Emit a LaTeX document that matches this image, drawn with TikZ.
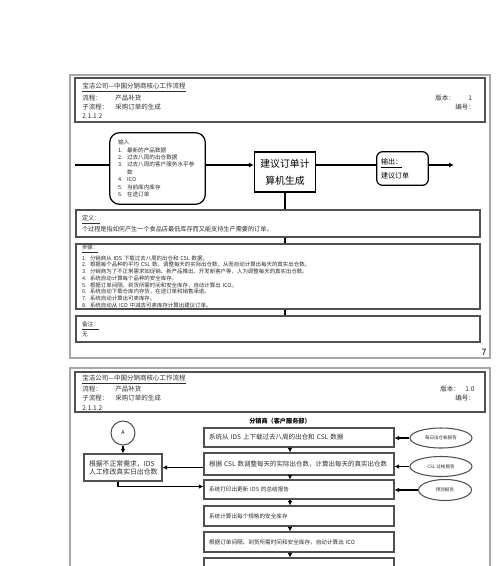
\documentclass[tikz,border=0pt]{standalone}
\usepackage{fontspec}
\setmainfont{Noto Sans CJK SC}
\usetikzlibrary{arrows.meta,positioning,calc,shapes.geometric}
\usepackage{xcolor}
\definecolor{framegray}{HTML}{A8A8A8}
\definecolor{boxgray}{HTML}{505050}
\definecolor{ink}{HTML}{2E2E2E}
\tikzset{
  pageframe/.style={draw=framegray,line width=1.2pt},
  headbox/.style={draw=boxgray,line width=0.7pt},
  txt/.style={anchor=west,inner sep=0pt,text=ink,font=\fontsize{3.7}{4.4}\selectfont},
  sheet/.style={draw=boxgray,line width=0.7pt,align=left,minimum width=8.08cm,text width=7.84cm,inner xsep=0.12cm,inner ysep=0pt,text=ink},
  inbox/.style={align=left,minimum width=1.9cm,text width=1.58cm,inner xsep=0.16cm,inner ysep=0pt,text=ink},
  outbox/.style={align=left,minimum width=1.02cm,minimum height=0.66cm,text width=0.86cm,inner xsep=0.08cm,inner ysep=0pt,font=\fontsize{4}{8}\selectfont},
  roundline/.style={draw=black,line width=0.7pt},
  genbox/.style={draw=black,line width=0.7pt,align=center,minimum width=1.22cm,minimum height=0.8cm,inner sep=0pt,font=\fontsize{5.6}{9.6}\selectfont},
  stepbox/.style={draw=boxgray,line width=0.6pt,align=left,minimum width=3.8cm,text width=3.6cm,inner xsep=0.1cm,inner ysep=0pt,text=ink},
  sidebox/.style={draw=boxgray,line width=0.6pt,align=left,minimum width=1.56cm,minimum height=0.54cm,text width=1.36cm,inner xsep=0.1cm,inner ysep=0pt,text=ink,font=\fontsize{3.9}{4.6}\selectfont},
  report/.style={ellipse,draw=boxgray,line width=0.6pt,minimum width=1.24cm,minimum height=0.4cm,inner sep=0pt,text=ink,font=\fontsize{2.6}{3}\selectfont},
  conn/.style={circle,draw=boxgray,line width=0.6pt,minimum size=0.48cm,inner sep=0pt,font=\fontsize{3}{3}\selectfont},
  arr/.style={-{Latex[length=1mm,width=1mm]},line width=0.75pt,draw=black},
  flowline/.style={line width=0.75pt,draw=black},
  spine/.style={line width=1.2pt,draw=black},
  darr/.style={-{Latex[length=0.9mm,width=0.9mm]},line width=0.6pt,draw=black}
}
\newcommand{\itm}[2]{\makebox[0.18cm][l]{#1}#2}
\newcommand{\stp}[2]{\makebox[0.16cm][l]{#1}#2}

\begin{document}
\begin{tikzpicture}[x=0.02cm,y=-0.02cm]
  \useasboundingbox (0,0) rectangle (500,566);
  \fill[white] (0,0) rectangle (500,566);
  \clip (0,0) rectangle (500,566);

  % first sheet
  \draw[pageframe] (70,75) rectangle (490,358);
  \draw[headbox] (75,78) rectangle (485,122);
  \node[txt] (h1a) at (82,88) {\underline{宝洁公司—中国分销商核心工作流程}};
  \node[txt] (h1b) at (82,98) {流程：};
  \node[txt] (h1c) at (115,98) {产品补货};
  \node[txt] (h1d) at (82,107) {子流程：};
  \node[txt] (h1e) at (115,107) {采购订单的生成};
  \node[txt] (h1f) at (82,116) {2.1.1.2};
  \node[txt] (h1g) at (435,98) {版本：};
  \node[txt] (h1h) at (468,98) {1};
  \node[txt] (h1i) at (455,107) {编号：};

  \node[inbox,minimum height=1.42cm,font=\fontsize{3.2}{4.2}\selectfont] (in) at (157.5,168.5) {%
    输入\\
    \itm{1.}{最新的产品数据}\\
    \itm{2.}{过去八周的出仓数据}\\
    \itm{3.}{过去八周的客户服务水平参}\\
    \itm{}{数}\\
    \itm{4.}{ICO}\\
    \itm{5.}{当前库内库存}\\
    \itm{6.}{在途订单}};
  \draw[roundline,rounded corners=0.2cm] (in.north west) rectangle (in.south east);
  \node[genbox] (gen) at (285,172) {建议订单计\\算机生成};
  \node[outbox] (out) at (402.5,168.5) {\underline{输出：}\\建议订单};
  \draw[roundline,rounded corners=0.12cm] (out.north west) rectangle (out.south east);
  \coordinate (src) at (75,165);
  \coordinate (sink) at (454,165);
  \draw[flowline] (src) -- (src -| in.west);
  \draw[arr] (in.east |- src) -- (src -| gen.west);
  \draw[flowline] (gen.east |- src) -- (src -| out.west);
  \draw[arr] (out.east |- src) -- (sink);

  \node[sheet,minimum height=0.54cm,font=\fontsize{3.5}{5.1}\selectfont] (def) at (278,223.5) {%
    \underline{定义：}\\
    个过程是指如何产生一个食品店最低库存而又能支持生产需要的订单。};
  \node[sheet,minimum height=1.3cm,font=\fontsize{3.1}{3.85}\selectfont] (steps) at (278,276.5) {%
    \underline{步骤：}\\
    \stp{1.}{分销商从 IDS 下载过去八周的出仓和 CSL 数据。}\\
    \stp{2.}{根据每个品种的平均 CSL 数，调整每天的实际出仓数，从而自动计算出每天的真实出仓数。}\\
    \stp{3.}{分销商为了不正常需求如促销、新产品推出、开发新客户等，人为调整每天的真实出仓数。}\\
    \stp{4.}{系统自动计算每个品种的安全库存。}\\
    \stp{5.}{根据订单间隔，到货所需时间和安全库存，自动计算出 ICO。}\\
    \stp{6.}{系统自动下载仓库内存货，在途订单和销售承诺。}\\
    \stp{7.}{系统自动计算出可卖库存。}\\
    \stp{8.}{系统自动从 ICO 中减去可卖库存计算出建议订单。}};
  \node[sheet,minimum height=0.52cm,font=\fontsize{3.2}{4}\selectfont] (rem) at (278,329) {%
    \underline{备注：}\\
    无};
  \draw[spine] (gen.south) -- (gen.south |- def.north);
  \draw[spine] (gen.south |- def.south) -- (gen.south |- steps.north);
  \draw[spine] (gen.south |- steps.south) -- (gen.south |- rem.north);
  \node[anchor=center,inner sep=0pt,font=\fontsize{5}{5}\selectfont] (pg) at (484,352) {7};

  % second sheet
  \draw[pageframe] (70,368) rectangle (490,620);
  \draw[headbox] (75,372) rectangle (485,412);
  \node[txt] (h2a) at (82,380) {\underline{宝洁公司—中国分销商核心工作流程}};
  \node[txt] (h2b) at (82,389) {流程：};
  \node[txt] (h2c) at (115,389) {产品补货};
  \node[txt] (h2d) at (82,398) {子流程：};
  \node[txt] (h2e) at (115,398) {采购订单的生成};
  \node[txt] (h2f) at (82,408) {2.1.1.2};
  \node[txt] (h2g) at (440,389) {版本：};
  \node[txt] (h2h) at (465,389) {1.0};
  \node[txt] (h2i) at (455,398) {编号：};

  \node[inner sep=0pt,font=\fontsize{3.5}{4}\selectfont\bfseries] (ttl) at (280,421) {分销商（客户服务部）};
  \coordinate (col) at (290,0);
  \node[stepbox,minimum height=0.38cm,font=\fontsize{3.7}{4.6}\selectfont] (b1) at (299,437.5) {\mbox{系统从 IDS 上下载过去八周的出仓和 CSL 数据}};
  \node[stepbox,minimum height=0.44cm,font=\fontsize{3.7}{4.6}\selectfont] (b2) at (299,464) {\mbox{根据 CSL 数调整每天的实际出仓数，计算出每天的真实出仓数}};
  \node[stepbox,minimum height=0.38cm,font=\fontsize{3.2}{4}\selectfont] (b3) at (299,489.5) {系统打印出更新 IDS 的总结报告};
  \node[stepbox,minimum height=0.4cm,font=\fontsize{3.2}{4}\selectfont] (b4) at (299,516) {系统计算出每个规格的安全库存};
  \node[stepbox,minimum height=0.4cm,font=\fontsize{3.2}{4}\selectfont] (b5) at (299,542) {根据订单间隔、到货所需时间和安全库存，自动计算出 ICO};
  \node[stepbox,minimum height=0.4cm] (b6) at (299,568) {};
  \draw[darr] (b1.south -| col) -- (b2.north -| col);
  \draw[darr] (b2.south -| col) -- (b3.north -| col);
  \draw[darr] (b3.south -| col) -- (b4.north -| col);
  \draw[darr] (b4.south -| col) -- (b5.north -| col);
  \draw[darr] (b5.south -| col) -- (b6.north -| col);

  \node[conn] (ca) at (123,433) {A};
  \node[sidebox] (adj) at (123,467.5) {根据不正常需求，IDS\\人工修改真实日出仓数};
  \draw[darr] (ca.south) -- (adj.north);
  \draw[darr] (adj.east -| b2.west) -- (adj.east);
  \draw[darr] ([xshift=-0.1cm]adj.south) |- ([yshift=0.06cm]b3.west);

  \node[report] (r1) at (441,438) {每日出仓帐报告};
  \node[report] (r2) at (441,466.5) {CSL 过帐报告};
  \node[report,minimum width=1.06cm,minimum height=0.42cm] (r3) at (445,490) {预测报告};
  \draw[darr] (r1.west) -- (r1.west -| b1.east);
  \draw[darr] (r2.west) -- (r2.west -| b2.east);
  \draw[darr] (r3.west) -- (r3.west -| b3.east);
\end{tikzpicture}
\end{document}
